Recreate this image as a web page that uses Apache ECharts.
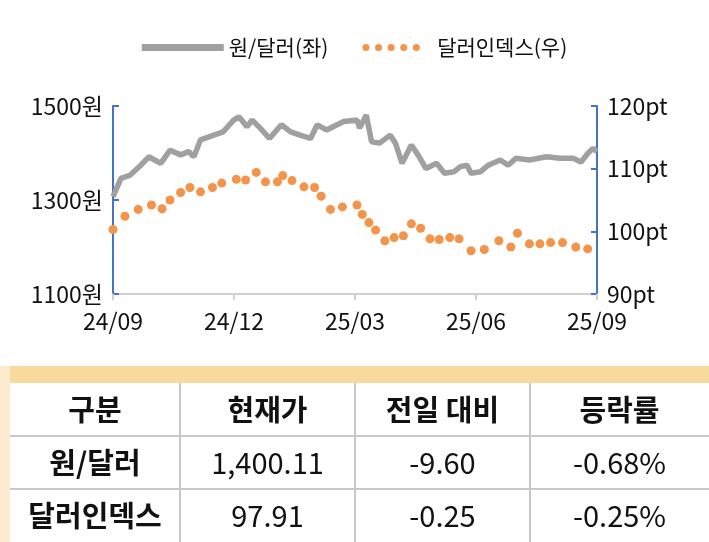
<!DOCTYPE html>
<html>
<head>
<meta charset="utf-8">
<script src="https://cdn.jsdelivr.net/npm/echarts@6/dist/echarts.min.js"></script>
<style>html,body{margin:0;padding:0;background:#fff}#c{width:709px;height:542px}</style>
</head>
<body>
<div id="c"></div>
<script>
// x is days since start of 24/09
const xLabels = ['24/09', '24/12', '25/03', '25/06', '25/09'];
const wonDays = [0, 6, 13, 21, 27, 36, 43, 51, 57, 61, 66, 76, 83, 91, 95, 101, 105, 111, 118, 127, 134, 141, 149, 154, 161, 166, 174, 184, 186, 191, 195, 201, 209, 213, 218, 225, 230, 236, 244, 250, 257, 262, 267, 270, 277, 283, 292, 298, 304, 314, 327, 337, 347, 353, 358, 362, 365];
const wonVals = [1307, 1346, 1353, 1374, 1392, 1378, 1406, 1396, 1403, 1392, 1428, 1438, 1445, 1470, 1477, 1456, 1470, 1453, 1431, 1460, 1445, 1438, 1431, 1460, 1449, 1456, 1467, 1470, 1453, 1481, 1424, 1421, 1438, 1421, 1378, 1417, 1396, 1367, 1378, 1357, 1360, 1371, 1374, 1357, 1360, 1374, 1385, 1374, 1389, 1385, 1392, 1389, 1389, 1381, 1399, 1410, 1403];
const dxyDays = [0, 9, 19, 29, 37, 43, 51, 58, 66, 75, 82, 93, 100, 108, 115, 124, 128, 135, 144, 152, 157, 164, 173, 184, 188, 193, 198, 205, 212, 219, 225, 232, 239, 246, 254, 261, 270, 280, 291, 300, 305, 314, 322, 330, 339, 349, 358];
const dxyVals = [100.3, 102.4, 103.5, 104.2, 103.6, 105.0, 106.2, 107.0, 106.3, 107.0, 107.7, 108.3, 108.2, 109.4, 107.9, 107.9, 108.9, 108.1, 107.1, 107.0, 105.6, 103.5, 103.9, 104.2, 102.7, 101.4, 100.2, 98.5, 99.0, 99.3, 101.2, 100.5, 98.8, 98.7, 99.0, 98.8, 96.9, 97.1, 98.5, 97.5, 99.7, 98.0, 98.0, 98.2, 98.2, 97.5, 97.2];

const tableHead = ['구분', '현재가', '전일 대비', '등락률'];
const tableRows = [
  ['원/달러', '1,400.11', '-9.60', '-0.68%'],
  ['달러인덱스', '97.91', '-0.25', '-0.25%']
];

const FONT = '"Noto Sans CJK KR", "Noto Sans", sans-serif';
const chart = echarts.init(document.getElementById('c'));

// table drawn with graphic elements
const colX = [0, 180, 355, 530, 709];
const rowY = [383, 436, 489, 542];
const g = [
  { type: 'rect', shape: { x: 10, y: 366, width: 699, height: 17 }, style: { fill: '#F8DB9C' } },
  { type: 'rect', shape: { x: 0, y: 366, width: 10, height: 176 }, style: { fill: '#FCEBD0' } }
];
for (let i = 1; i < 4; i++) {
  g.push({ type: 'line', shape: { x1: colX[i], y1: 383, x2: colX[i], y2: 542 }, style: { stroke: '#c8c8c8', lineWidth: 2 } });
}
for (let j = 1; j < 3; j++) {
  g.push({ type: 'line', shape: { x1: 10, y1: rowY[j], x2: 709, y2: rowY[j] }, style: { stroke: '#c8c8c8', lineWidth: 2 } });
}
const allRows = [tableHead].concat(tableRows);
allRows.forEach(function (row, r) {
  row.forEach(function (txt, c) {
    g.push({
      type: 'text',
      x: (colX[c] + colX[c + 1]) / 2 + (c === 0 ? 5 : 0),
      y: (rowY[r] + rowY[r + 1]) / 2,
      style: {
        text: txt, fill: '#111', font: ((r === 0 || c === 0) ? 'bold ' : '') + '29px ' + FONT,
        textAlign: 'center', textVerticalAlign: 'middle'
      }
    });
  });
});

const option = {
  animation: false,
  textStyle: { fontFamily: FONT },
  legend: {
    top: 32,
    left: 'center',
    itemGap: 34,
    itemWidth: 82,
    itemHeight: 7,
    textStyle: { fontSize: 21, color: '#111', fontFamily: FONT },
    data: [
      { name: '원/달러(좌)', icon: 'rect', itemStyle: { color: '#A0A0A0' } },
      { name: '달러인덱스(우)', icon: 'path://M5,0A5,5,0,1,1,5,10A5,5,0,1,1,5,0ZM23,0A5,5,0,1,1,23,10A5,5,0,1,1,23,0ZM41,0A5,5,0,1,1,41,10A5,5,0,1,1,41,0ZM59,0A5,5,0,1,1,59,10A5,5,0,1,1,59,0ZM77,0A5,5,0,1,1,77,10A5,5,0,1,1,77,0Z' }
    ]
  },
  grid: { left: 113, right: 112, top: 106, height: 188 },
  xAxis: {
    type: 'value', min: 0, max: 365, interval: 91.25,
    splitLine: { show: false },
    axisLine: { lineStyle: { color: '#d0d0d0', width: 2 } },
    axisTick: { lineStyle: { color: '#d0d0d0', width: 2 }, length: 6 },
    axisLabel: { color: '#111', fontSize: 23, margin: 16, formatter: function (v) { return xLabels[Math.round(v / 91.25)]; } }
  },
  yAxis: [
    {
      type: 'value', min: 1100, max: 1500, interval: 200,
      splitLine: { show: false },
      axisLine: { show: true, lineStyle: { color: '#4472C4', width: 2 } },
      axisTick: { show: true, inside: true, length: 6, lineStyle: { color: '#4472C4', width: 2 } },
      axisLabel: { color: '#111', fontSize: 23, margin: 10, formatter: function (v) { return v + '원'; } }
    },
    {
      type: 'value', min: 90, max: 120, interval: 10,
      splitLine: { show: false },
      axisLine: { show: true, lineStyle: { color: '#4472C4', width: 2 } },
      axisTick: { show: true, inside: true, length: 6, lineStyle: { color: '#4472C4', width: 2 } },
      axisLabel: { color: '#111', fontSize: 23, margin: 10, formatter: function (v) { return v + 'pt'; } }
    }
  ],
  series: [
    {
      name: '원/달러(좌)', type: 'line', yAxisIndex: 0, symbol: 'none',
      data: wonDays.map(function (d, i) { return [d, wonVals[i]]; }),
      lineStyle: { color: '#A0A0A0', width: 5.5 }, itemStyle: { color: '#A0A0A0' }
    },
    {
      name: '달러인덱스(우)', type: 'scatter', yAxisIndex: 1, symbolSize: 9,
      data: dxyDays.map(function (d, i) { return [d, dxyVals[i]]; }),
      itemStyle: { color: '#F4944A', opacity: 1 }
    }
  ],
  graphic: g
};
chart.setOption(option);
</script>
</body>
</html>
